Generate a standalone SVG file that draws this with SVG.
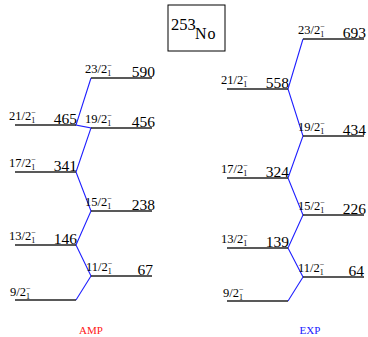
<svg xmlns="http://www.w3.org/2000/svg" width="368" height="337" viewBox="0 0 368 337">
<style>
text{font-family:"Liberation Serif","DejaVu Serif",serif;fill:#000}
.lv{stroke:#222;stroke-width:1.4;fill:none}
.conn{stroke:#1f1fff;stroke-width:1.1;fill:none}
.val{font-size:15.5px;text-anchor:end}
.sp{font-size:12.5px}
.s{font-size:8px}
</style>
<rect width="368" height="337" fill="#fff"/>
<g id="title">
<rect x="168" y="5" width="57" height="46" fill="none" stroke="#000" stroke-width="1"/>
<text x="171" y="30" font-size="16.5">253</text>
<text x="195" y="39" font-size="16" letter-spacing="1">No</text>
</g>
<g id="connectors">
<polyline class="conn" points="76,300 91,276 76,245 91,211 76,172 91,128 76,125 91,78"/>
<polyline class="conn" points="288,301 303,277 288,248 303,215 288,178 303,136 288,89 303,39"/>
</g>
<g id="amp-9-2"><line class="lv" x1="15" y1="300" x2="76" y2="300"/><text class="sp" x="10" y="296">9/2<tspan class="s" dy="3">1</tspan><tspan class="s" dx="-4" dy="-8">−</tspan></text></g>
<g id="amp-11-2"><line class="lv" x1="91" y1="276" x2="152" y2="276"/><text class="sp" x="86" y="271">11/2<tspan class="s" dy="3">1</tspan><tspan class="s" dx="-4" dy="-8">−</tspan></text><text class="val" x="153" y="274.5">67</text></g>
<g id="amp-13-2"><line class="lv" x1="15" y1="245" x2="76" y2="245"/><text class="sp" x="9" y="240">13/2<tspan class="s" dy="3">1</tspan><tspan class="s" dx="-4" dy="-8">−</tspan></text><text class="val" x="77" y="243.5">146</text></g>
<g id="amp-15-2"><line class="lv" x1="91" y1="211" x2="152" y2="211"/><text class="sp" x="85" y="206">15/2<tspan class="s" dy="3">1</tspan><tspan class="s" dx="-4" dy="-8">−</tspan></text><text class="val" x="155" y="209.5">238</text></g>
<g id="amp-17-2"><line class="lv" x1="15" y1="172" x2="76" y2="172"/><text class="sp" x="9" y="167">17/2<tspan class="s" dy="3">1</tspan><tspan class="s" dx="-4" dy="-8">−</tspan></text><text class="val" x="77" y="170.5">341</text></g>
<g id="amp-19-2"><line class="lv" x1="91" y1="128" x2="152" y2="128"/><text class="sp" x="85" y="123">19/2<tspan class="s" dy="3">1</tspan><tspan class="s" dx="-4" dy="-8">−</tspan></text><text class="val" x="155" y="126.5">456</text></g>
<g id="amp-21-2"><line class="lv" x1="15" y1="125" x2="76" y2="125"/><text class="sp" x="9" y="120">21/2<tspan class="s" dy="3">1</tspan><tspan class="s" dx="-4" dy="-8">−</tspan></text><text class="val" x="77" y="123.5">465</text></g>
<g id="amp-23-2"><line class="lv" x1="91" y1="78" x2="152" y2="78"/><text class="sp" x="85" y="73">23/2<tspan class="s" dy="3">1</tspan><tspan class="s" dx="-4" dy="-8">−</tspan></text><text class="val" x="155" y="76.5">590</text></g>
<g id="exp-9-2"><line class="lv" x1="227" y1="301" x2="288" y2="301"/><text class="sp" x="223" y="297">9/2<tspan class="s" dy="3">1</tspan><tspan class="s" dx="-4" dy="-8">−</tspan></text></g>
<g id="exp-11-2"><line class="lv" x1="303" y1="277" x2="364" y2="277"/><text class="sp" x="298" y="272">11/2<tspan class="s" dy="3">1</tspan><tspan class="s" dx="-4" dy="-8">−</tspan></text><text class="val" x="364" y="275.5">64</text></g>
<g id="exp-13-2"><line class="lv" x1="227" y1="248" x2="288" y2="248"/><text class="sp" x="221" y="243">13/2<tspan class="s" dy="3">1</tspan><tspan class="s" dx="-4" dy="-8">−</tspan></text><text class="val" x="289" y="246.5">139</text></g>
<g id="exp-15-2"><line class="lv" x1="303" y1="215" x2="364" y2="215"/><text class="sp" x="298" y="210">15/2<tspan class="s" dy="3">1</tspan><tspan class="s" dx="-4" dy="-8">−</tspan></text><text class="val" x="366" y="213.5">226</text></g>
<g id="exp-17-2"><line class="lv" x1="227" y1="178" x2="288" y2="178"/><text class="sp" x="221" y="173">17/2<tspan class="s" dy="3">1</tspan><tspan class="s" dx="-4" dy="-8">−</tspan></text><text class="val" x="289" y="176.5">324</text></g>
<g id="exp-19-2"><line class="lv" x1="303" y1="136" x2="364" y2="136"/><text class="sp" x="298" y="131">19/2<tspan class="s" dy="3">1</tspan><tspan class="s" dx="-4" dy="-8">−</tspan></text><text class="val" x="366" y="134.5">434</text></g>
<g id="exp-21-2"><line class="lv" x1="227" y1="89" x2="288" y2="89"/><text class="sp" x="221" y="84">21/2<tspan class="s" dy="3">1</tspan><tspan class="s" dx="-4" dy="-8">−</tspan></text><text class="val" x="289" y="87.5">558</text></g>
<g id="exp-23-2"><line class="lv" x1="303" y1="39" x2="364" y2="39"/><text class="sp" x="298" y="34">23/2<tspan class="s" dy="3">1</tspan><tspan class="s" dx="-4" dy="-8">−</tspan></text><text class="val" x="366" y="37.5">693</text></g>
<g id="amp-label"><text x="91" y="334" font-size="11" text-anchor="middle" style="fill:#ff2020">AMP</text></g>
<g id="exp-label"><text x="310" y="334" font-size="11" text-anchor="middle" style="fill:#2020ff">EXP</text></g>
</svg>
